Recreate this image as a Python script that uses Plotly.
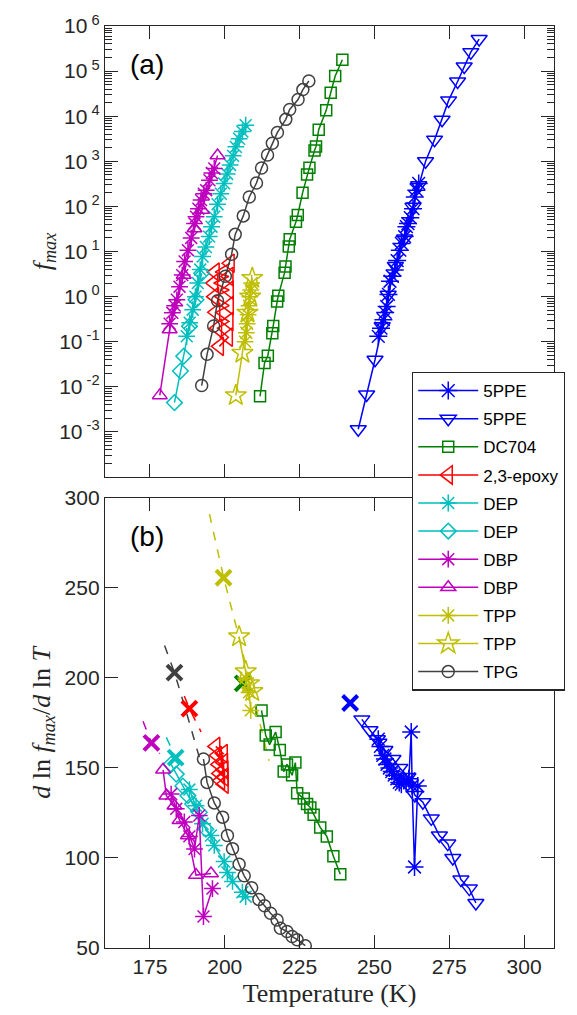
import plotly.graph_objects as go

# ---------------- panel (a): f_max vs T ----------------
T_5ppe_a = [251.3, 252.2, 253.0, 253.6, 254.1, 254.7, 255.2, 256.0, 256.8, 257.6, 258.5, 259.0, 260.1, 260.7, 261.2, 262.0, 262.9, 263.5, 264.0, 264.8]
f_5ppe_a = [1.32e-1, 2.0e-1, 3.09e-1, 4.47e-1, 6.03e-1, 1.12, 2.19, 2.82, 3.89, 6.31, 10.7, 15.1, 21.4, 35.5, 41.7, 56.2, 89.1, 162, 229, 324]

T_5ppe_b = [244.6, 247.4, 250.2, 252.6, 254.6, 257.0, 260.1, 262.9, 264.8, 267.1, 270.1, 272.6, 274.8, 277.8, 280.0, 282.2, 285.0]
f_5ppe_b = [1.15e-3, 6.76e-3, 3.98e-2, 2.19e-1, 1.10, 4.79, 19.5, 97.7, 295, 1000, 3020, 8320, 2.24e4, 5.89e4, 1.26e5, 2.63e5, 5.13e5]

T_dc704 = [211.8, 213.3, 214.4, 215.9, 216.2, 217.5, 217.9, 220.0, 220.3, 221.4, 221.7, 223.8, 224.4, 226.0, 227.5, 228.3, 230.0, 230.5, 231.4, 233.9, 235.4, 236.9, 239.3]
f_dc704 = [6.17e-3, 3.39e-2, 4.90e-2, 1.55e-1, 2.24e-1, 7.76e-1, 1.05, 3.39, 4.68, 12.9, 18.6, 45.7, 64.6, 200, 513, 724, 1740, 2140, 5010, 1.35e4, 3.31e4, 7.76e4, 1.78e5]

T_epoxy = [198.2, 201.2, 197.6, 201.4, 197.0, 201.5, 196.6, 201.5, 196.3, 201.4, 196.8, 201.8]
f_epoxy = [7.9e-2, 1.26e-1, 2.0e-1, 2.8e-1, 4.5e-1, 6.3e-1, 1.0, 1.4, 2.0, 2.8, 3.5, 5.5]

T_dep_a = [187.3, 188.3, 189.3, 190.2, 191.0, 191.8, 192.6, 193.7, 194.8, 195.6, 196.5, 197.6, 198.7, 199.8, 200.8, 201.8, 202.8, 203.7, 204.8, 205.9, 207.0]
f_dep_a = [1.32e-1, 2.63e-1, 5.13e-1, 1.0, 2.0, 3.98, 7.76, 12.6, 21.4, 35.5, 58.9, 112, 191, 324, 525, 832, 1320, 2090, 3160, 4570, 6310]

T_dep_b = [183.2, 185.2, 186.3, 188.2, 190.4, 192.3]
f_dep_b = [4.47e-3, 2.24e-2, 4.79e-2, 2.19e-1, 8.51e-1, 3.31]

T_dbp_a = [181.6, 182.5, 183.3, 184.0, 184.9, 185.8, 186.6, 187.7, 188.8, 189.9, 190.4, 191.2, 192.1, 193.0, 193.8, 194.9, 195.7, 196.5]
f_dbp_a = [2.51e-1, 4.37e-1, 6.31e-1, 8.51e-1, 1.66, 3.0, 6.03, 10.7, 20.0, 41.7, 58.9, 89.1, 138, 191, 229, 380, 550, 692]

T_dbp_b = [178.3, 181.6, 186.3, 189.9, 192.4, 197.6]
f_dbp_b = [6.46e-3, 1.86e-1, 3.02, 32.4, 83.2, 1350]

T_tpp_a = [206.8, 207.2, 207.5, 207.8, 208.1, 208.4, 208.7, 209.0]
f_tpp_a = [1.0e-1, 1.58e-1, 2.51e-1, 3.98e-1, 6.31e-1, 1.0, 1.41, 2.0]

T_tpp_b = [203.7, 205.9, 207.6, 208.5, 209.2]
f_tpp_b = [6.46e-3, 5.62e-2, 4.37e-1, 1.0, 2.57]

T_tpg = [192.3, 194.1, 196.3, 197.6, 200.2, 202.3, 203.5, 206.2, 208.2, 210.6, 212.3, 214.3, 215.9, 217.6, 220.4, 221.7, 224.5, 226.1, 228.1]
f_tpg = [1.07e-2, 5.25e-2, 2.24e-1, 8.13e-1, 2.82, 8.71, 24.0, 61.7, 162, 331, 708, 1380, 2510, 4370, 8510, 1.41e4, 2.34e4, 3.89e4, 6.03e4]

# ---------------- panel (b): d ln f_max / d ln T ----------------
Tb_5ppe_a = [251.3, 252.0, 252.8, 253.5, 254.2, 255.0, 255.8, 256.6, 257.5, 258.3, 259.0, 259.8, 260.6, 261.5, 262.3, 262.6, 263.4, 264.5]
v_5ppe_a = [166, 162, 157, 155, 152, 150, 148, 146, 144, 142, 141, 143, 142, 144, 170, 140, 95, 140]

Tb_5ppe_b = [245.8, 248.5, 251.0, 253.5, 256.2, 258.5, 261.2, 263.5, 266.2, 269.0, 271.7, 274.5, 276.2, 278.9, 281.7, 283.9]
v_5ppe_b = [177, 171, 166, 160, 155, 150, 145, 135, 131, 122, 112.5, 108, 100, 88, 83, 75]

Tb_dc704 = [212.3, 213.7, 215.0, 217.0, 218.4, 219.7, 220.8, 222.5, 223.6, 224.2, 226.4, 227.5, 228.6, 229.7, 231.9, 234.1, 236.3, 238.6]
v_dc704 = [182, 168, 163, 170, 160, 148, 152, 146, 153, 136, 133, 130, 128, 124, 117, 112, 101, 91]

Tb_epoxy = [197.0, 199.5, 197.5, 199.6, 198.0, 199.7, 198.3, 199.8, 198.6, 199.8]
v_epoxy = [162, 158, 157, 153, 152, 149, 147, 145, 143, 141]

Tb_dep_a = [188.2, 190.4, 192.6, 195.4, 196.5, 199.8, 200.9, 202.6, 205.9, 207.0]
v_dep_a = [138, 129, 119, 112.5, 107, 98, 92, 87, 81, 78.5]

Tb_dep_b = [182.1, 183.8, 186.0, 187.7, 189.3, 191.5, 193.7]
v_dep_b = [152, 146.6, 140, 134.6, 130, 125.4, 116]

Tb_dbp_a = [182.1, 183.8, 186.5, 188.2, 189.9, 191.5, 192.9, 195.9]
v_dbp_a = [135.5, 127.3, 120, 112, 105, 123.6, 67.5, 83]

Tb_dbp_b = [179.4, 180.5, 183.2, 184.9, 187.7, 190.4, 195.4]
v_dbp_b = [149, 134.6, 129, 121, 112.5, 90.5, 91.4]

Tb_tpp_a = [207.0, 208.1, 208.7]
v_tpp_a = [200, 192, 182]

Tb_tpp_b = [204.8, 207.0, 208.1, 209.2]
v_tpp_b = [223, 203.6, 197, 192.6]

Tb_tpg = [192.9, 194.1, 196.5, 199.3, 200.9, 202.6, 204.8, 206.5, 209.0, 211.4, 213.3, 215.3, 217.5, 218.6, 220.8, 222.5, 224.2, 226.9]
v_tpg = [155, 142, 130.6, 122.7, 112.5, 105.2, 96.5, 90.1, 83.5, 77.0, 73.5, 69.3, 65.6, 61.0, 59.2, 56.4, 54.6, 51.3]

# extrapolated points (x markers) and dashed fit curves
x_names = ["DC704", "5PPE", "2,3-epoxy", "DEP", "DBP", "TPP", "TPG"]
x_T = [206.0, 241.9, 188.2, 183.6, 175.5, 199.6, 183.2]
x_v = [197.0, 186.1, 183.0, 155.8, 164.0, 255.7, 203.0]

fit_T_tpp = [194.9, 199.6, 205.0, 210.0, 214.8]
fit_v_tpp = [291, 256, 221, 187, 154]
fit_T_tpg = [179.9, 183.2, 187.0, 191.5]
fit_v_tpg = [218, 203, 182, 156]
fit_T_epoxy = [186.5, 188.2, 192.1]
fit_v_epoxy = [190, 183, 170]
fit_T_dbp = [172.7, 175.5, 178.3]
fit_v_dbp = [176, 164, 158]
fit_T_dep = [180.5, 183.6, 185.5]
fit_v_dep = [167, 155.8, 150]

BLUE, GREEN, RED, CYAN, MAG, YEL, GRAY = "#0000ff", "#008000", "#ff0000", "#00bfbf", "#bf00bf", "#bfbf00", "#404040"

series = [
    ("5PPE", BLUE, "asterisk-open", 15, T_5ppe_a, f_5ppe_a, Tb_5ppe_a, v_5ppe_a),
    ("5PPE", BLUE, "triangle-down-open", 14, T_5ppe_b, f_5ppe_b, Tb_5ppe_b, v_5ppe_b),
    ("DC704", GREEN, "square-open", 11, T_dc704, f_dc704, Tb_dc704, v_dc704),
    ("2,3-epoxy", RED, "triangle-left-open", 16, T_epoxy, f_epoxy, Tb_epoxy, v_epoxy),
    ("DEP", CYAN, "asterisk-open", 14, T_dep_a, f_dep_a, Tb_dep_a, v_dep_a),
    ("DEP", CYAN, "diamond-open", 12, T_dep_b, f_dep_b, Tb_dep_b, v_dep_b),
    ("DBP", MAG, "asterisk-open", 14, T_dbp_a, f_dbp_a, Tb_dbp_a, v_dbp_a),
    ("DBP", MAG, "triangle-up-open", 13, T_dbp_b, f_dbp_b, Tb_dbp_b, v_dbp_b),
    ("TPP", YEL, "asterisk-open", 14, T_tpp_a, f_tpp_a, Tb_tpp_a, v_tpp_a),
    ("TPP", YEL, "star-open", 16, T_tpp_b, f_tpp_b, Tb_tpp_b, v_tpp_b),
    ("TPG", GRAY, "circle-open", 12, T_tpg, f_tpg, Tb_tpg, v_tpg),
]

fig = go.Figure()

fits = [(fit_T_tpp, fit_v_tpp, YEL), (fit_T_tpg, fit_v_tpg, GRAY), (fit_T_epoxy, fit_v_epoxy, RED),
        (fit_T_dbp, fit_v_dbp, MAG), (fit_T_dep, fit_v_dep, CYAN)]
for ft, fv, c in fits:
    fig.add_trace(go.Scatter(x=ft, y=fv, mode="lines", xaxis="x2", yaxis="y2", showlegend=False,
                             line=dict(color=c, width=1.5, dash="dash"), hoverinfo="skip"))

x_cols = [GREEN, BLUE, RED, CYAN, MAG, YEL, GRAY]
fig.add_trace(go.Scatter(x=x_T, y=x_v, mode="markers", xaxis="x2", yaxis="y2", showlegend=False,
                         text=x_names, hoverinfo="text",
                         marker=dict(symbol="x-thin-open", size=15, color=x_cols,
                                     line=dict(color=x_cols, width=4))))

for i, (name, col, sym, sz, Ta, fa, Tb, vb) in enumerate(series):
    mk = dict(symbol=sym, size=sz, color=col, line=dict(color=col, width=1.5))
    fig.add_trace(go.Scatter(x=Ta, y=fa, mode="lines+markers", name=name, legendgroup=f"g{i}",
                             line=dict(color=col, width=1.5), marker=mk, xaxis="x", yaxis="y"))
    fig.add_trace(go.Scatter(x=Tb, y=vb, mode="lines+markers", name=name, legendgroup=f"g{i}", showlegend=False,
                             line=dict(color=col, width=1.5), marker=mk, xaxis="x2", yaxis="y2"))

AX = "#262626"
TFONT = dict(family="Liberation Sans, Arial, sans-serif", size=21, color=AX)
SERIF = "Liberation Serif, Times New Roman, serif"
xt = [175, 200, 225, 250, 275, 300]

minor_vals = [m * 10.0 ** e for e in range(-4, 6) for m in range(2, 10)]

fig.update_layout(
    width=577, height=1015,
    margin=dict(l=105, r=20, t=22, b=65),
    paper_bgcolor="white", plot_bgcolor="white",
    font=TFONT,
    xaxis=dict(domain=[0, 1], range=[160, 310], anchor="y", tickvals=xt, showticklabels=False,
               ticks="inside", ticklen=13, tickcolor=AX, showline=True, linecolor=AX, linewidth=1.3,
               mirror="ticks", showgrid=False, zeroline=False),
    yaxis=dict(domain=[0.5108, 1], type="log", range=[-4, 6], anchor="x",
               tickvals=[10.0 ** e for e in range(-3, 7)],
               ticktext=[f"10<sup> {e}</sup>" for e in range(-3, 7)],
               ticks="inside", ticklen=13, tickcolor=AX, showline=True, linecolor=AX, linewidth=1.3,
               mirror="ticks", showgrid=False, zeroline=False,
               minor=dict(tickvals=minor_vals, ticks="inside", ticklen=7, tickcolor=AX, showgrid=False),
               title=dict(text="<i>f</i><sub><i>max</i></sub>", font=dict(family=SERIF, size=26, color=AX), standoff=0)),
    xaxis2=dict(domain=[0, 1], range=[160, 310], anchor="y2", tickvals=xt,
                ticks="inside", ticklen=13, tickcolor=AX, showline=True, linecolor=AX, linewidth=1.3,
                mirror="ticks", showgrid=False, zeroline=False,
                title=dict(text="Temperature (K)", font=dict(family=SERIF, size=26, color=AX), standoff=6)),
    yaxis2=dict(domain=[0, 0.4881], range=[50, 300], anchor="x2", tickvals=[50, 100, 150, 200, 250, 300],
                ticks="inside", ticklen=13, tickcolor=AX, showline=True, linecolor=AX, linewidth=1.3,
                mirror="ticks", showgrid=False, zeroline=False,
                title=dict(text="<i>d</i> ln <i>f</i><sub><i>max</i></sub>/<i>d</i> ln <i>T</i>",
                           font=dict(family=SERIF, size=26, color=AX), standoff=6)),
    legend=dict(x=0.6836, y=0.625, xanchor="left", yanchor="top", bgcolor="white",
                bordercolor=AX, borderwidth=1.3, font=dict(family="Liberation Sans, Arial, sans-serif", size=17, color="black"),
                itemwidth=60, tracegroupgap=3),
    annotations=[
        dict(text="(a)", x=0.0509, y=0.958, xref="paper", yref="paper", xanchor="left", yanchor="middle",
             showarrow=False, font=dict(size=28, color="black", family="Liberation Sans, Arial, sans-serif")),
        dict(text="(b)", x=0.0509, y=0.4461, xref="paper", yref="paper", xanchor="left", yanchor="middle",
             showarrow=False, font=dict(size=28, color="black", family="Liberation Sans, Arial, sans-serif")),
    ],
)

fig.write_html("out.html")
